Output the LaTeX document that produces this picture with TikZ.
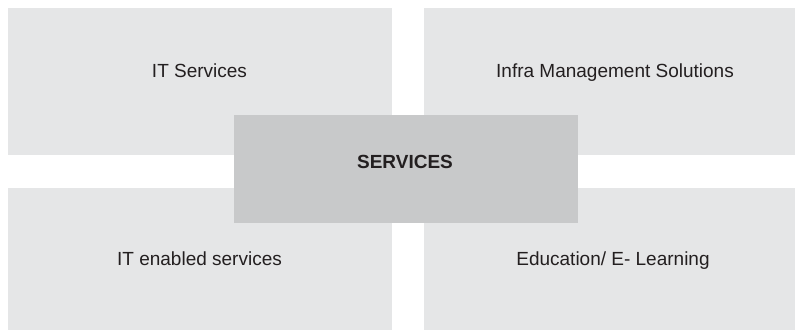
\documentclass[tikz,border=0pt]{standalone}
\usepackage{fontspec}
\setmainfont{Liberation Sans}
\definecolor{boxgray}{HTML}{E5E6E7}
\definecolor{centergray}{HTML}{C8C9CA}
\definecolor{txtcol}{HTML}{231F20}
\begin{document}
\begin{tikzpicture}[x=1pt,y=-1pt,
  panel/.style={fill=boxgray, draw=none, inner sep=0pt, outer sep=0pt, anchor=north west},
  hub/.style={fill=centergray, draw=none, inner sep=0pt, outer sep=0pt, anchor=north west},
  lbl/.style={text=txtcol, font=\fontsize{19}{22}\selectfont, anchor=base, inner sep=0pt}]
\useasboundingbox (0,0) rectangle (795,330);
\fill[white] (0,0) rectangle (795,330);
\node[panel, minimum width=384pt, minimum height=147pt] (tl) at (8,8) {};
\node[panel, minimum width=371pt, minimum height=147pt] (tr) at (424,8) {};
\node[panel, minimum width=384pt, minimum height=142pt] (bl) at (8,188) {};
\node[panel, minimum width=371pt, minimum height=142pt] (br) at (424,188) {};
\node[hub, minimum width=344pt, minimum height=108pt] (hubbox) at (234,115) {};
\node[lbl] (ttl) at (199.5,77) {IT Services};
\node[lbl] (ttr) at (615,77) {Infra Management Solutions};
\node[lbl, font=\fontsize{19}{22}\selectfont\bfseries] (thub) at (405,168.5) {SERVICES};
\node[lbl] (tbl) at (199.5,265) {IT enabled services};
\node[lbl] (tbr) at (613,265) {Education/ E- Learning};
\end{tikzpicture}
\end{document}
